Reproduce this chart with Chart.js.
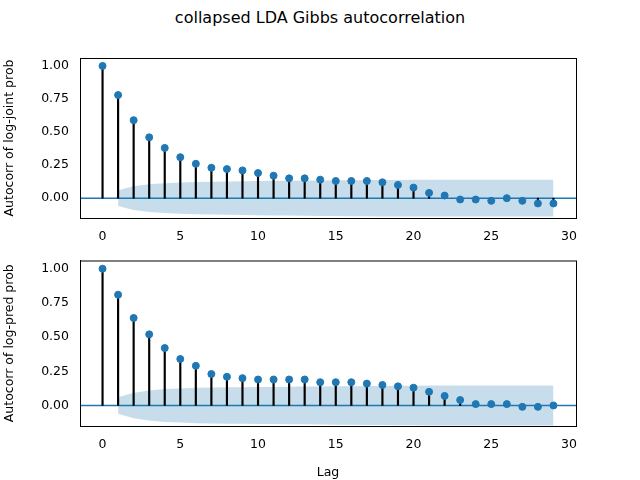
<!DOCTYPE html>
<html>
<head>
<meta charset="utf-8">
<script src="https://cdn.jsdelivr.net/npm/chart.js@4"></script>
<style>
body { margin: 0; width: 640px; height: 480px; background: #fff; position: relative; font-family: "DejaVu Sans", sans-serif; }
#title { position: absolute; top: 8px; left: 0; width: 640px; text-align: center; font-size: 16px; color: #000; }
.box { position: absolute; left: 0; width: 640px; }
</style>
</head>
<body>
<div id="title">collapsed LDA Gibbs autocorrelation</div>
<div class="box" style="top:0;height:250px"><canvas id="top"></canvas></div>
<div class="box" style="top:250px;height:230px"><canvas id="bottom"></canvas></div>
<script>
var lags = [];
for (var i = 0; i < 30; i++) lags.push(i);

var acfJoint = [1.0, 0.78, 0.59, 0.46, 0.38, 0.31, 0.26, 0.23, 0.22, 0.21, 0.19, 0.17, 0.15, 0.15, 0.14,
    0.13, 0.13, 0.13, 0.12, 0.10, 0.08, 0.04, 0.02, -0.01, -0.01, -0.02, 0.00, -0.02, -0.04, -0.04];
var bandJoint = [null, 0.06, 0.09, 0.105, 0.113, 0.118, 0.122, 0.124, 0.126, 0.128, 0.13, 0.131, 0.132, 0.133, 0.134,
    0.135, 0.136, 0.137, 0.138, 0.138, 0.139, 0.139, 0.139, 0.139, 0.139, 0.139, 0.139, 0.139, 0.139, 0.139];

var acfPred = [1.0, 0.81, 0.64, 0.52, 0.42, 0.34, 0.29, 0.23, 0.21, 0.20, 0.19, 0.19, 0.19, 0.19, 0.17,
    0.17, 0.17, 0.16, 0.15, 0.14, 0.13, 0.10, 0.07, 0.04, 0.01, 0.01, 0.01, -0.01, -0.01, 0.00];
var bandPred = [null, 0.06, 0.093, 0.11, 0.12, 0.125, 0.129, 0.131, 0.133, 0.134, 0.135, 0.136, 0.137, 0.138, 0.139,
    0.140, 0.141, 0.142, 0.143, 0.144, 0.145, 0.146, 0.146, 0.147, 0.147, 0.147, 0.147, 0.147, 0.147, 0.147];

var yTicks = [0, 0.25, 0.5, 0.75, 1.0];
var xTicks = [0, 5, 10, 15, 20, 25, 30];

var frame = {
    id: "frame",
    afterDraw: function (c) {
        var a = c.chartArea, ctx = c.ctx;
        ctx.save();
        ctx.strokeStyle = "#000";
        ctx.lineWidth = 1;
        ctx.strokeRect(a.left + 0.5, a.top + 0.5, a.right - a.left, a.bottom - a.top);
        ctx.restore();
    }
};

function makeChart(id, acf, band, ylabel, topPad, xHeight, showLag) {
    var pts = lags.map((l, i) => ({x: l, y: acf[i]}));
    var up = [], lo = [];
    lags.forEach((l, i) => { if (band[i] !== null) { up.push({x: l, y: band[i]}); lo.push({x: l, y: -band[i]}); } });
    new Chart(document.getElementById(id), {
        data: {
            datasets: [
                {type: "line", data: up, borderWidth: 0, pointRadius: 0, fill: "+1",
                    backgroundColor: "rgba(31,119,180,0.25)", order: 5},
                {type: "line", data: lo, borderWidth: 0, pointRadius: 0, fill: false, order: 5},
                {type: "line", data: [{x: -1.45, y: 0}, {x: 30.45, y: 0}], borderColor: "#1f77b4",
                    borderWidth: 1.5, pointRadius: 0, order: 4},
                {type: "bar", data: lags.map((l, i) => ({x: l, y: [0, acf[i]]})), backgroundColor: "#000",
                    barThickness: 1.5, order: 3},
                {type: "scatter", data: pts, backgroundColor: "#1f77b4", borderColor: "#1f77b4",
                    pointRadius: 3.5, order: 1}
            ]
        },
        options: {
            responsive: true, maintainAspectRatio: false, animation: false,
            layout: {padding: {top: topPad, right: 64, left: 0, bottom: 0}},
            plugins: {legend: {display: false}, tooltip: {enabled: false}},
            scales: {
                x: {
                    type: "linear", min: -1.45, max: 30.45, offset: false,
                    grid: {display: false, drawTicks: true},
                    border: {color: "#000"},
                    afterBuildTicks: s => { s.ticks = xTicks.map(v => ({value: v})); },
                    afterFit: s => { s.height = xHeight; },
                    ticks: {color: "#000", font: {size: 12.5, family: "DejaVu Sans"}, maxRotation: 0},
                    title: {display: showLag, text: "Lag", color: "#000", padding: 0,
                        font: {size: 12.5, family: "DejaVu Sans"}}
                },
                y: {
                    min: -0.15, max: 1.06, grid: {display: false},
                    border: {color: "#000"},
                    afterBuildTicks: s => { s.ticks = yTicks.map(v => ({value: v})); },
                    afterFit: s => { s.width = 80; },
                    ticks: {color: "#000", font: {size: 12.5, family: "DejaVu Sans"}, callback: v => v.toFixed(2)},
                    title: {display: true, text: ylabel, color: "#000", padding: 2,
                        font: {size: 12.5, family: "DejaVu Sans"}}
                }
            }
        },
        plugins: [frame]
    });
}

makeChart("top", acfJoint, bandJoint, "Autocorr of log-joint prob", 58, 32, false);
makeChart("bottom", acfPred, bandPred, "Autocorr of log-pred prob", 8, 54, true);
</script>
</body>
</html>
